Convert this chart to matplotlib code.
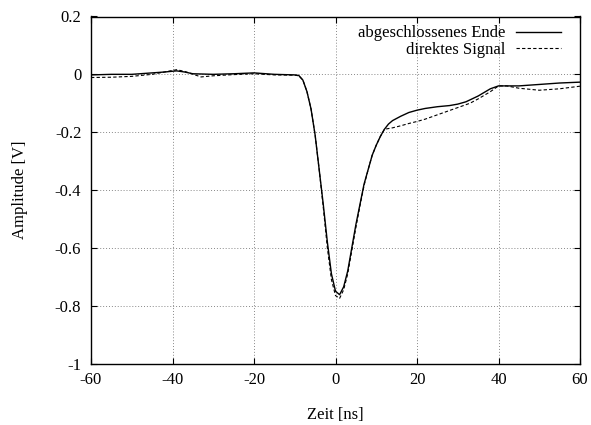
import matplotlib
matplotlib.use("Agg")
import matplotlib.pyplot as plt
import numpy as np

t_solid = [-60, -55, -50, -45, -42, -39, -37, -35, -30, -25, -20, -15, -10, -9, -8, -7, -6, -5,
           -4, -3, -2, -1, 0, 1, 2, 3, 4, 5, 6, 7, 8, 9, 10, 11, 12, 13, 14, 16, 18, 20,
           22, 25, 28, 30, 32, 35, 38, 40, 45, 50, 55, 60]
v_solid = [-0.002, 0.0, 0.0, 0.005, 0.008, 0.012, 0.008, 0.002, 0.0, 0.002, 0.005, 0.0, -0.002,
           -0.004, -0.02, -0.06, -0.12, -0.21, -0.33, -0.45, -0.58, -0.69, -0.75, -0.762,
           -0.735, -0.68, -0.6, -0.52, -0.45, -0.38, -0.33, -0.28, -0.245, -0.215, -0.19,
           -0.172, -0.16, -0.145, -0.132, -0.124, -0.118, -0.112, -0.108, -0.103, -0.095,
           -0.075, -0.05, -0.04, -0.04, -0.035, -0.03, -0.027]

t_dash = [-60, -55, -50, -45, -42, -39, -37, -33, -30, -25, -20, -15, -10, -9, -8, -7, -6, -5,
          -4, -3, -2, -1, 0, 1, 2, 3, 4, 5, 6, 7, 8, 9, 10, 11, 12, 14, 16, 18, 20,
          22, 25, 28, 30, 33, 35, 38, 40, 42, 45, 50, 55, 60]
v_dash = [-0.011, -0.01, -0.007, 0.0, 0.008, 0.016, 0.01, -0.009, -0.005, -0.001, 0.002, -0.002,
          -0.003, -0.005, -0.02, -0.06, -0.12, -0.21, -0.33, -0.46, -0.6, -0.71, -0.765,
          -0.775, -0.745, -0.69, -0.61, -0.53, -0.455, -0.385, -0.33, -0.28, -0.245, -0.215,
          -0.19, -0.185, -0.178, -0.17, -0.163, -0.155, -0.14, -0.125, -0.115, -0.1, -0.085,
          -0.06, -0.04, -0.04, -0.048, -0.055, -0.05, -0.041]

x_ticks = [-60, -40, -20, 0, 20, 40, 60]
y_ticks = [-1, -0.8, -0.6, -0.4, -0.2, 0, 0.2]
y_labels = ["-1", "-0.8", "-0.6", "-0.4", "-0.2", "0", "0.2"]

plt.rcParams['font.family'] = ['Liberation Serif', 'DejaVu Serif']
plt.rcParams['font.size'] = 12

fig = plt.figure(figsize=(5.91, 4.25), dpi=100)
ax = fig.add_axes([91 / 591, 1 - 363.5 / 425, 489 / 591, (363.5 - 16.5) / 425])

ax.plot(t_solid, v_solid, color='black', lw=1.0, label='abgeschlossenes Ende')
ax.plot(t_dash, v_dash, color='black', lw=0.8, linestyle=(0, (3, 2)), label='direktes Signal')

ax.set_xlim(-60, 60)
ax.set_ylim(-1, 0.2)
ax.set_xticks(x_ticks)
ax.set_xticklabels([str(x) for x in x_ticks])
ax.set_yticks(y_ticks)
ax.set_yticklabels(y_labels)
ax.tick_params(direction='in', top=True, right=True, length=4, width=0.8, labelsize=12)
ax.tick_params(axis='x', pad=6)
ax.tick_params(axis='y', pad=7)
ax.grid(True, color='#888888', linestyle=(0, (1, 2)), lw=0.7)
for s in ax.spines.values():
    s.set_linewidth(1.0)

ax.set_xlabel('Zeit [ns]')
ax.set_ylabel('Amplitude [V]')
ax.xaxis.set_label_coords(0.5, -0.125)
ax.yaxis.set_label_coords(-0.129, 0.5)

ax.legend(loc='upper right', bbox_to_anchor=(0.985, 1.008), frameon=False, markerfirst=False,
          handlelength=2.7, handletextpad=0.65, labelspacing=0.05, borderpad=0.2, fontsize=12)

fig.savefig('out.png', dpi=100)
